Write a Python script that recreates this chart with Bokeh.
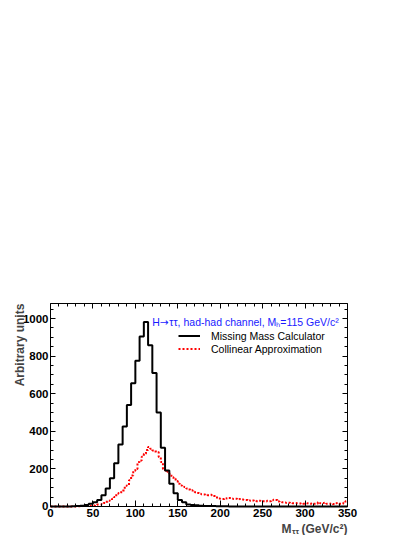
import numpy as np
from bokeh.plotting import figure
from bokeh.models import Range1d, FixedTicker, LinearAxis, Label, Legend, LegendItem
from bokeh.embed import file_html
from bokeh.resources import INLINE

# ---------------- data ----------------
mmc_bin_width = 5.0  # GeV, 0..350
mmc_counts = [
    0, 0, 0, 0, 0, 1, 2, 4, 8, 14,            # 0-50
    22, 35, 60, 95, 150, 230, 330, 425, 540, 655,   # 50-100
    775, 905, 982, 858, 710, 500, 313, 192, 121, 70,  # 100-150
    35, 22, 11, 8, 6, 4, 3, 2, 2, 1,          # 150-200
    1, 1, 0, 0, 0, 0, 0, 0, 0, 0,             # 200-250
    0, 0, 0, 0, 0, 0, 0, 0, 0, 0,             # 250-300
    0, 0, 0, 0, 0, 0, 0, 0, 0, 0,             # 300-350
]

col_bin_width = 2.5  # GeV, 0..350
col_counts = [
    0, 0, 0, 0, 0, 0, 0, 0, 0, 0,                       # 0-25
    0, 0, 1, 1, 1, 2, 2, 3, 3, 4,                       # 25-50
    5, 8, 10, 10, 12, 18, 25, 30, 32, 41,               # 50-75
    50, 68, 72, 76, 85, 110, 112, 140, 165, 190,        # 75-100
    200, 236, 245, 265, 280, 300, 316, 307, 298, 292,   # 100-125
    290, 263, 236, 200, 192, 185, 174, 156, 147, 135,   # 125-150
    121, 112, 105, 103, 95, 90, 86, 78, 76, 72,         # 150-175
    68, 65, 64, 62, 60, 62, 58, 56, 48, 42,             # 175-200
    41, 40, 44, 42, 45, 43, 40, 41, 38, 40,             # 200-225
    37, 36, 35, 33, 30, 32, 30, 28, 31, 29,             # 225-250
    28, 27, 30, 28, 33, 36, 34, 26, 23, 22,             # 250-275
    21, 19, 20, 18, 17, 18, 17, 16, 17, 15,             # 275-300
    16, 17, 15, 16, 14, 15, 22, 17, 18, 20,             # 300-325
    15, 14, 16, 13, 17, 18, 15, 14, 20, 28,             # 325-350
]

x_min, x_max = 0, 350
y_min, y_max = 0, 1080
x_ticks = [0, 50, 100, 150, 200, 250, 300, 350]
y_ticks = [0, 200, 400, 600, 800, 1000]
x_minor = list(range(0, 351, 10))
y_minor = list(range(0, 1081, 50))

legend_labels = ["Missing Mass Calculator", "Collinear Approximation"]
y_title = "Arbitrary units"
x_title_parts = ["M", "\u03c4\u03c4", "(GeV/c\u00b2)"]
title_parts = ["H", "\u2192", "\u03c4\u03c4, had-had channel, M\u2095=115 GeV/c\u00b2"]


def step_xy(counts, width):
    edges = np.arange(len(counts) + 1) * width
    xs, ys = [], []
    for i, c in enumerate(counts):
        xs += [edges[i], edges[i + 1]]
        ys += [c, c]
    return xs, ys


FONT = "Liberation Sans"

# The frame is widened left, right and downwards so that the axis titles and
# tick labels lie inside it; the axes are pinned at the data edges.
p = figure(width=405, height=535,
           x_range=Range1d(-58.92, 418.35), y_range=Range1d(-154.5, y_max),
           output_backend="svg", toolbar_location=None,
           min_border_left=0, min_border_right=0,
           min_border_top=303, min_border_bottom=0)
p.background_fill_color = "white"
p.border_fill_color = "white"
p.outline_line_color = None
p.xgrid.visible = False
p.ygrid.visible = False

cx, cy = step_xy(col_counts, col_bin_width)
mx, my = step_xy(mmc_counts, mmc_bin_width)
r_col = p.line(cx, cy, line_color="#ff0000", line_width=2, line_dash="2 2")
r_mmc = p.line(mx, my, line_color="black", line_width=2)


def style_axis(ax, major_in, minor_in):
    ax.axis_line_color = "black"
    ax.axis_line_width = 1
    ax.major_tick_in = major_in
    ax.major_tick_out = 0
    ax.minor_tick_in = minor_in
    ax.minor_tick_out = 0
    ax.major_tick_line_color = "black"
    ax.minor_tick_line_color = "black"
    ax.major_label_text_font = FONT
    ax.major_label_text_font_style = "bold"
    ax.major_label_text_font_size = "11.5px"
    ax.major_label_text_color = "black"
    ax.major_label_standoff = 3


xb = p.xaxis[0]
xb.ticker = FixedTicker(ticks=x_ticks, minor_ticks=x_minor)
xb.fixed_location = y_min
xb.bounds = (x_min, x_max)
style_axis(xb, 6, 3)
yl = p.yaxis[0]
yl.ticker = FixedTicker(ticks=y_ticks, minor_ticks=y_minor)
yl.fixed_location = x_min
yl.bounds = (y_min, y_max)
style_axis(yl, 5, 3)
yl.major_label_standoff = 2

xt = LinearAxis(ticker=FixedTicker(ticks=x_ticks, minor_ticks=x_minor),
                major_label_overrides={t: "" for t in x_ticks},
                bounds=(x_min, x_max))
style_axis(xt, 5, 3)
p.add_layout(xt, "above")
yr = LinearAxis(ticker=FixedTicker(ticks=y_ticks, minor_ticks=y_minor),
                major_label_overrides={t: "" for t in y_ticks},
                bounds=(y_min, y_max), fixed_location=x_max)
style_axis(yr, 5, 3)
p.add_layout(yr, "right")

# y axis title
p.add_layout(Label(x=-35.4, y=1079, text=y_title, angle=np.pi / 2,
                   text_align="right", text_baseline="middle",
                   text_font=FONT, text_font_style="bold", text_font_size="12px"))

# x axis title, built from pieces (subscript tau tau)
p.add_layout(Label(x=272.2, y=-120, text=x_title_parts[0], text_align="left",
                   text_baseline="alphabetic", text_font=FONT,
                   text_font_style="bold", text_font_size="12px"))
p.add_layout(Label(x=284.6, y=-133, text=x_title_parts[1], text_align="left",
                   text_baseline="alphabetic", text_font=FONT,
                   text_font_style="bold", text_font_size="8px"))
p.add_layout(Label(x=295.8, y=-120, text=x_title_parts[2], text_align="left",
                   text_baseline="alphabetic", text_font=FONT,
                   text_font_style="bold", text_font_size="12px"))

# blue title text
BLUE = "#1a1aff"
p.add_layout(Label(x=120, y=983, x_offset=0, text=title_parts[0], text_color=BLUE,
                   text_align="left", text_baseline="middle",
                   text_font=FONT, text_font_size="10.5px"))
p.add_layout(Label(x=120, y=983, x_offset=7.6, text=title_parts[1], text_color=BLUE,
                   text_align="left", text_baseline="middle",
                   text_font="DejaVu Sans", text_font_size="10.5px"))
p.add_layout(Label(x=120, y=983, x_offset=17, text=title_parts[2], text_color=BLUE,
                   text_align="left", text_baseline="middle",
                   text_font=FONT, text_font_size="10.5px"))

legend = Legend(items=[LegendItem(label=legend_labels[0], renderers=[r_mmc]),
                       LegendItem(label=legend_labels[1], renderers=[r_col])],
                location=(178, 180), orientation="vertical",
                glyph_width=22, glyph_height=13, label_height=13,
                label_standoff=11, spacing=0, padding=0, margin=0,
                background_fill_alpha=0, border_line_alpha=0,
                label_text_font=FONT, label_text_font_size="10.5px",
                label_text_color="black")
p.add_layout(legend)

open("out.html", "w").write(file_html(p, INLINE))
